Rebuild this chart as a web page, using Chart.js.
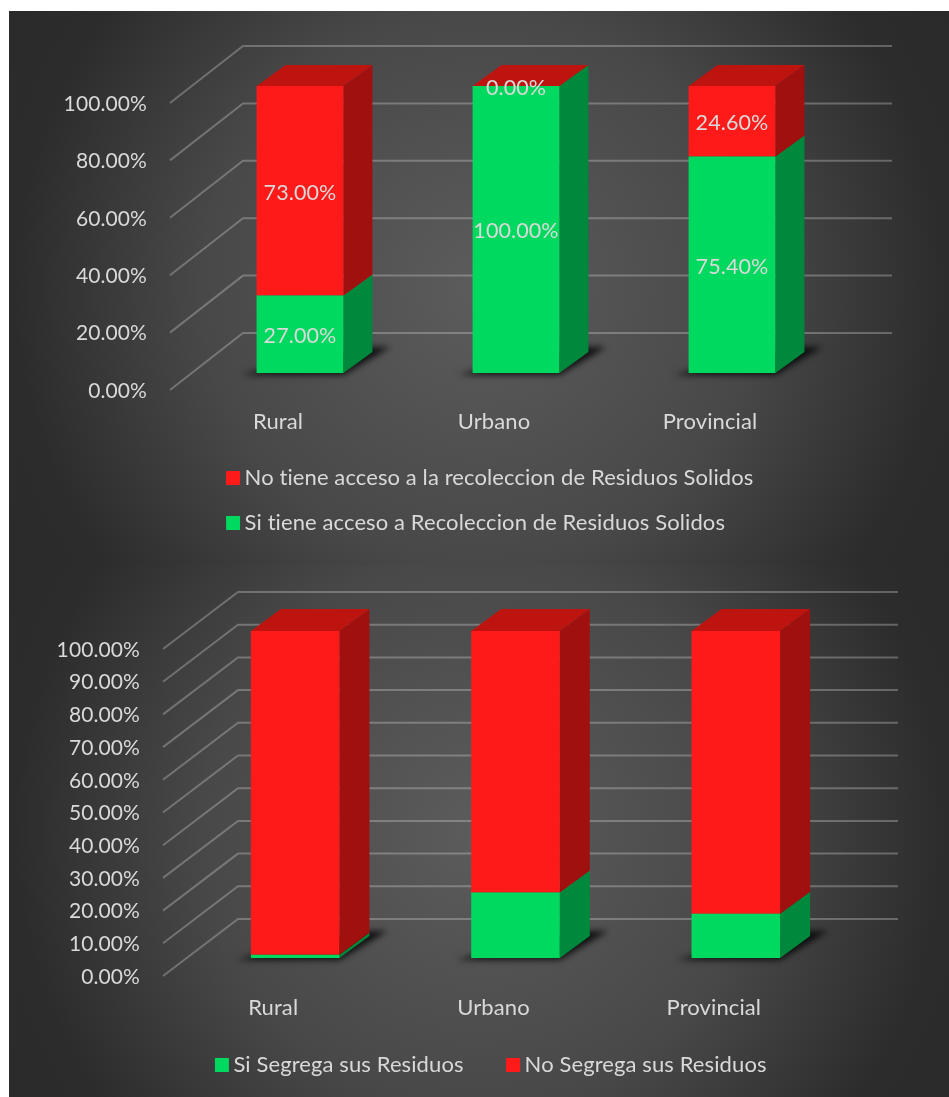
<!DOCTYPE html>
<html>
<head>
<meta charset="utf-8">
<title>Residuos Solidos</title>
<script src="https://cdn.jsdelivr.net/npm/chart.js@4"></script>
<style>
  html, body { margin: 0; background: #fff; }
  .stage { position: relative; width: 949px; height: 1097px; overflow: hidden; }
  .panel { position: absolute; left: 9px; right: 0; background: radial-gradient(circle at center, #5c5c5c 0, #484848 277px, #2c2c2c 465px, #2a2a2a 560px); }
  #panelTop { top: 11px; height: 554px; }
  #panelBottom { top: 565px; height: 532px; }
  canvas { position: absolute; left: 0; filter: blur(0.4px); }
  #chartTop { top: 0; }
  #chartBottom { top: 565px; }
</style>
</head>
<body>
<div class="stage">
  <div class="panel" id="panelTop"></div>
  <div class="panel" id="panelBottom"></div>
  <canvas id="chartTop" width="949" height="565"></canvas>
  <canvas id="chartBottom" width="949" height="532"></canvas>
</div>
<script>
const categories = ["Rural", "Urbano", "Provincial"];

const accesoLabels = ["Si tiene acceso a Recoleccion de Residuos Solidos", "No tiene acceso a la recoleccion de Residuos Solidos"];
const accesoSi = [27, 100, 75.4];
const accesoNo = [73, 0, 24.6];
const accesoTicks = [0, 20, 40, 60, 80, 100];

const segregaLabels = ["Si Segrega sus Residuos", "No Segrega sus Residuos"];
const segregaSi = [1, 20, 13.5];
const segregaNo = [99, 80, 86.5];
const segregaTicks = [0, 10, 20, 30, 40, 50, 60, 70, 80, 90, 100];

const GREEN = "#00d95f";
const RED = "#ff1a1a";
const TEXT = "#d9d9d9";
const FONT = "Lato";
const faceColors = {
  [GREEN]: { side: "#00883c", top: "#00a84a" },
  [RED]: { side: "#a0100e", top: "#be1410" },
};

function percent(value) {
  return `${Number(value).toFixed(2)}%`;
}

function polygon(ctx, points, color) {
  ctx.fillStyle = color;
  ctx.beginPath();
  points.forEach(([x, y], i) => (i ? ctx.lineTo(x, y) : ctx.moveTo(x, y)));
  ctx.closePath();
  ctx.fill();
}

// Excel style 3D look: floor grid on the axis plane, bars pushed back into it.
function box3d(opts) {
  const barRects = (chart) => chart.data.labels.map((_, index) =>
    chart.data.datasets.map((dataset, i) => {
      const bar = chart.getDatasetMeta(i).data[index];
      return {
        x0: bar.x - bar.width / 2,
        x1: bar.x + bar.width / 2,
        y: bar.y,
        base: bar.base,
        center: bar.x,
        color: dataset.backgroundColor,
        value: dataset.data[index],
      };
    }));

  return {
    id: "box3d",
    // small tracking turns off the Lato "ti" ligature and matches the text width
    beforeUpdate(chart) {
      chart.ctx.letterSpacing = "0.1px";
    },
    beforeDatasetsDraw(chart) {
      const { ctx, scales, chartArea } = chart;
      const { back, rightEnd, shift, depth } = opts;

      ctx.save();
      ctx.strokeStyle = "rgba(217, 217, 217, 0.33)";
      ctx.lineWidth = 2;
      scales.y.ticks.forEach((tick) => {
        const y = scales.y.getPixelForValue(tick.value);
        ctx.beginPath();
        ctx.moveTo(chartArea.left, y);
        ctx.lineTo(chartArea.left + back[0], y + back[1]);
        ctx.lineTo(rightEnd, y + back[1]);
        ctx.stroke();
      });
      ctx.restore();

      ctx.save();
      ctx.translate(shift[0], shift[1]);

      barRects(chart).forEach((stack) => {
        const first = stack[0];
        const last = stack[stack.length - 1];

        ctx.save();
        ctx.filter = "blur(3px)";
        polygon(ctx, [
          [first.x0 - 15, first.base + 2],
          [first.x1, first.base + 2],
          [first.x1 + depth[0] + 18, first.base + depth[1] - 5],
          [first.x1 + depth[0] - 4, first.base + depth[1] - 5],
          [first.x0 + 8, first.base - 4],
        ], "rgba(0, 0, 0, 0.8)");
        ctx.restore();

        stack.forEach((seg) => {
          polygon(ctx, [
            [seg.x1, seg.y],
            [seg.x1 + depth[0], seg.y + depth[1]],
            [seg.x1 + depth[0], seg.base + depth[1]],
            [seg.x1, seg.base],
          ], faceColors[seg.color].side);
        });

        polygon(ctx, [
          [last.x0, last.y],
          [last.x0 + depth[0], last.y + depth[1]],
          [last.x1 + depth[0], last.y + depth[1]],
          [last.x1, last.y],
        ], faceColors[last.color].top);
      });
    },
    afterDatasetsDraw(chart) {
      const { ctx } = chart;
      if (opts.showValues) {
        ctx.fillStyle = TEXT;
        ctx.font = `21.5px ${FONT}`;
        ctx.textAlign = "center";
        ctx.textBaseline = "middle";
        barRects(chart).forEach((stack) => {
          stack.forEach((seg) => {
            ctx.fillText(percent(seg.value), seg.center, (seg.y + seg.base) / 2 + 2);
          });
        });
      }
      ctx.restore();
    },
    // legend rows start at the same x, like the original
    beforeDraw(chart) {
      chart.ctx.letterSpacing = "0.1px";
      const legend = chart.legend;
      const widest = Math.max(...legend.lineWidths);
      legend.lineWidths = legend.lineWidths.map(() => widest);
      legend.left = opts.legendCenter - legend.width / 2;
      legend.right = legend.left + legend.width;
      legend.top = opts.legendTop;
    },
  };
}

function createChart(id, labels, si, no, ticks, opts) {
  return new Chart(document.getElementById(id), {
    type: "bar",
    data: {
      labels: categories,
      datasets: [
        { label: labels[0], data: si, backgroundColor: GREEN },
        { label: labels[1], data: no, backgroundColor: RED },
      ],
    },
    plugins: [box3d(opts)],
    options: {
      responsive: false,
      animation: false,
      clip: false,
      barPercentage: 0.402,
      categoryPercentage: 1,
      layout: { padding: { left: 0, right: opts.paddingRight, top: opts.paddingTop, bottom: 0 } },
      plugins: {
        tooltip: { enabled: false },
        legend: {
          position: "bottom",
          reverse: opts.legendReverse,
          labels: {
            color: TEXT,
            font: { family: FONT, size: 22 },
            usePointStyle: true,
            pointStyle: "rect",
            boxWidth: 1,
            boxHeight: 14,
            padding: opts.legendPadding,
          },
        },
      },
      scales: {
        x: {
          stacked: true,
          grid: { display: false },
          border: { display: false },
          ticks: { color: TEXT, font: { family: FONT, size: 22 }, padding: opts.xPadding, maxRotation: 0 },
          afterFit: (scale) => { scale.height = opts.xHeight; },
        },
        y: {
          stacked: true,
          min: 0,
          max: 100,
          grid: { display: false },
          border: { display: false },
          afterFit: (scale) => { scale.width = opts.yWidth; },
          afterBuildTicks: (scale) => { scale.ticks = ticks.map((value) => ({ value })); },
          ticks: { color: TEXT, font: { family: FONT, size: 21 }, padding: 15, labelOffset: 1, callback: percent },
        },
      },
    },
  });
}

createChart("chartTop", accesoLabels, accesoSi, accesoNo, accesoTicks, {
  paddingTop: 103,
  paddingRight: 131,
  yWidth: 170,
  xHeight: 75,
  xPadding: 11,
  back: [73, -57],
  rightEnd: 892,
  shift: [22, -17],
  depth: [29, -21],
  showValues: true,
  legendReverse: true,
  legendPadding: 23,
  legendCenter: 493,
  legendTop: 444,
});

createChart("chartBottom", segregaLabels, segregaSi, segregaNo, segregaTicks, {
  paddingTop: 84,
  paddingRight: 125,
  yWidth: 163,
  xHeight: 40,
  xPadding: 11,
  back: [75, -57],
  rightEnd: 898,
  shift: [22, -18],
  depth: [30, -22],
  showValues: false,
  legendReverse: false,
  legendPadding: 49,
  legendCenter: 494,
  legendTop: 440,
});
</script>
</body>
</html>
